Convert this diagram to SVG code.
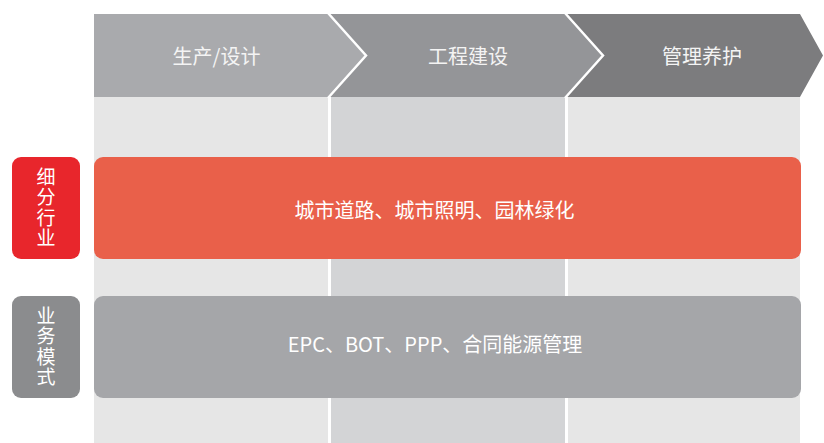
<svg xmlns="http://www.w3.org/2000/svg" width="824" height="443" viewBox="0 0 824 443">
<style>
text{font-family:"Noto Sans CJK SC","Noto Sans",sans-serif;fill:#fff;text-anchor:middle;dominant-baseline:central}
.h{font-size:20px;fill:#f4f4f4}
.b{font-size:20px}
.v{font-size:19px;writing-mode:vertical-rl;letter-spacing:1.5px}
.sep{fill:none;stroke:#fff;stroke-width:2.5}
</style>
<rect width="824" height="443" fill="#fff"/>
<g id="columns">
<rect x="94" y="97" width="234" height="346" fill="#e6e6e6"/>
<rect x="331" y="97" width="234" height="346" fill="#d3d4d6"/>
<rect x="568" y="97" width="232" height="346" fill="#e6e6e6"/>
</g>
<g id="header1">
<polygon points="94,14 328,14 366,55.5 328,97 94,97" fill="#a9aaad"/>
<text class="h" x="216.5" y="55">生产/设计</text>
</g>
<g id="header2">
<polygon points="328,14 565,14 603,55.5 565,97 328,97 366,55.5" fill="#949598"/>
<text class="h" x="468" y="55">工程建设</text>
</g>
<g id="header3">
<polygon points="565,14 800,14 823,55.5 800,97 565,97 603,55.5" fill="#7c7c7e"/>
<text class="h" x="702" y="55">管理养护</text>
</g>
<g id="connectors">
<polyline class="sep" points="328,13 366,55.5 328,98"/>
<polyline class="sep" points="565,13 603,55.5 565,98"/>
</g>
<g id="label1">
<rect x="12" y="157" width="68" height="102" rx="9" fill="#e8262c"/>
<text class="v" x="46" y="208">细分行业</text>
</g>
<g id="bar1">
<rect x="94" y="157" width="707" height="102" rx="9" fill="#e9604a"/>
<text class="b" x="434.5" y="209">城市道路、城市照明、园林绿化</text>
</g>
<g id="label2">
<rect x="12" y="296" width="68" height="102" rx="9" fill="#8b8c8e"/>
<text class="v" x="46" y="347">业务模式</text>
</g>
<g id="bar2">
<rect x="94" y="296" width="707" height="102" rx="9" fill="#a5a6a9"/>
<text class="b" x="435" y="343">EPC、BOT、PPP、合同能源管理</text>
</g>
</svg>
